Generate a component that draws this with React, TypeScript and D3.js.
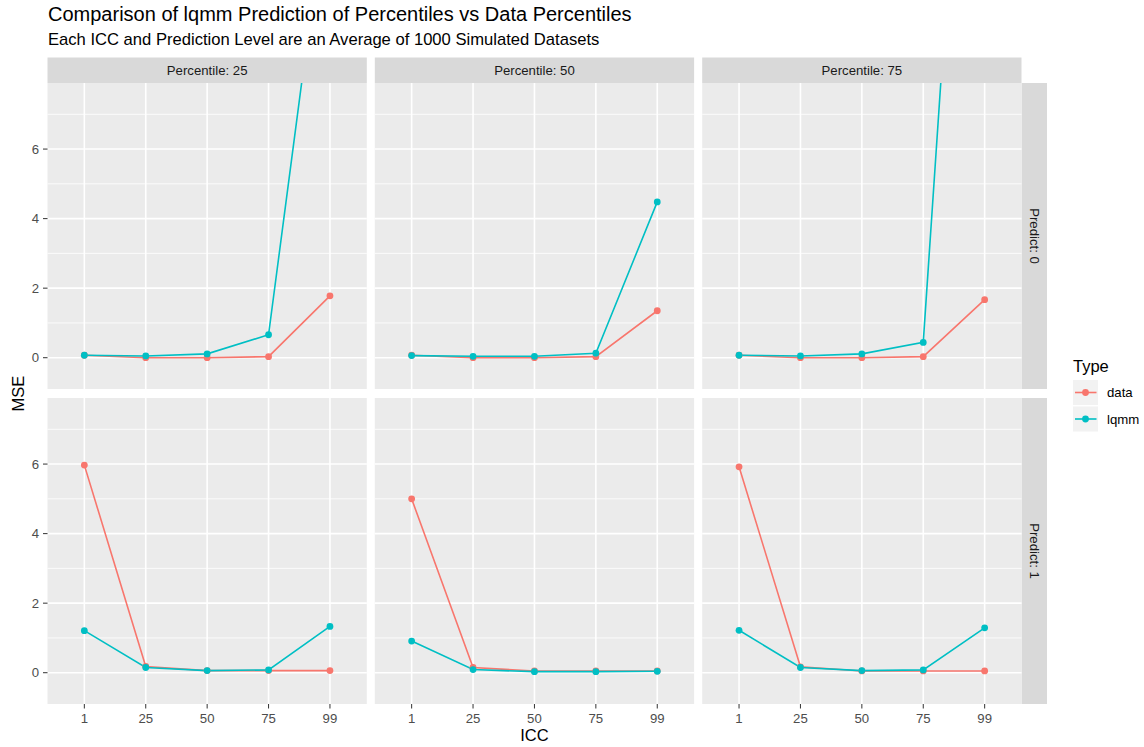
import React from 'react';
import * as d3 from 'd3';

// facet labels and x categories
const iccLevels = ['1', '25', '50', '75', '99'];
const percentiles = ['25', '50', '75'];
const predicts = ['0', '1'];
const types = ['data', 'lqmm'];
const typeColors = ['#F8766D', '#00BFC4'];
const yTicks = [0, 2, 4, 6];
const yMinor = [-1, 1, 3, 5, 7];

// MSE values per panel: [predict][percentile] -> ICC order 1,25,50,75,99
const dataP0 = [
  [0.07, 0.0, 0.0, 0.03, 1.78],
  [0.07, 0.0, 0.0, 0.03, 1.35],
  [0.07, 0.0, 0.0, 0.03, 1.67],
];
const lqmmP0 = [
  [0.07, 0.05, 0.11, 0.66, 14.1],
  [0.06, 0.04, 0.04, 0.13, 4.48],
  [0.07, 0.05, 0.11, 0.44, 26.6],
];
const dataP1 = [
  [5.97, 0.18, 0.06, 0.06, 0.06],
  [5.0, 0.15, 0.05, 0.05, 0.05],
  [5.92, 0.17, 0.05, 0.05, 0.05],
];
const lqmmP1 = [
  [1.21, 0.15, 0.06, 0.08, 1.33],
  [0.91, 0.09, 0.03, 0.03, 0.04],
  [1.22, 0.15, 0.06, 0.08, 1.29],
];

const W = 1144;
const H = 747;
const font = '"Liberation Sans", Arial, Helvetica, sans-serif';
const small = 13.2;

const panelW = 319.3;
const panelH = 306;
const colX = [47.5, 374.8, 702.2];
const rowY = [83, 398];
const stripH = 25.5;

const App: React.FC = () => {
  const x = d3.scalePoint<string>().domain(iccLevels).range([0, panelW]).padding(0.6);
  const y = d3.scaleLinear().domain([-0.9, 7.9]).range([panelH, 0]);
  const line = d3
    .line<number>()
    .x((_, i) => x(iccLevels[i]) as number)
    .y((d) => y(d));

  const series = [
    [dataP0, lqmmP0],
    [dataP1, lqmmP1],
  ];

  return (
    <svg width={W} height={H} style={{ position: 'absolute', left: 0, top: 0, background: '#fff' }}>
      <defs>
        <clipPath id="panelClip">
          <rect x={0} y={0} width={panelW} height={panelH} />
        </clipPath>
      </defs>
      <text x={48} y={21} fontFamily={font} fontSize={20} fill="#000">
        Comparison of lqmm Prediction of Percentiles vs Data Percentiles
      </text>
      <text x={48} y={44.5} fontFamily={font} fontSize={16.6} fill="#000">
        Each ICC and Prediction Level are an Average of 1000 Simulated Datasets
      </text>

      {/* top strips */}
      {percentiles.map((p, c) => (
        <g key={'s' + p} transform={`translate(${colX[c]},${rowY[0] - stripH})`}>
          <rect width={panelW} height={stripH} fill="#D9D9D9" />
          <text x={panelW / 2} y={stripH / 2 + 4.6} textAnchor="middle" fontFamily={font} fontSize={small} fill="#1A1A1A">
            {'Percentile: ' + p}
          </text>
        </g>
      ))}

      {/* right strips */}
      {predicts.map((p, r) => (
        <g key={'r' + p} transform={`translate(${colX[2] + panelW},${rowY[r]})`}>
          <rect width={stripH} height={panelH} fill="#D9D9D9" />
          <text
            transform={`translate(${stripH / 2 - 4.6},${panelH / 2}) rotate(90)`}
            textAnchor="middle"
            fontFamily={font}
            fontSize={small}
            fill="#1A1A1A"
          >
            {'Predict: ' + p}
          </text>
        </g>
      ))}

      {predicts.map((p, r) =>
        percentiles.map((q, c) => (
          <g key={p + q} transform={`translate(${colX[c]},${rowY[r]})`}>
            <rect width={panelW} height={panelH} fill="#EBEBEB" />
            {yMinor.map((t) => (
              <line key={'m' + t} x1={0} x2={panelW} y1={y(t)} y2={y(t)} stroke="#fff" strokeWidth={0.8} />
            ))}
            {yTicks.map((t) => (
              <line key={'y' + t} x1={0} x2={panelW} y1={y(t)} y2={y(t)} stroke="#fff" strokeWidth={1.6} />
            ))}
            {iccLevels.map((t) => (
              <line key={'x' + t} x1={x(t)} x2={x(t)} y1={0} y2={panelH} stroke="#fff" strokeWidth={1.6} />
            ))}
            <g clipPath="url(#panelClip)">
              {types.map((tp, k) => (
                <path
                  key={tp}
                  d={line(series[r][k][c]) ?? ''}
                  fill="none"
                  stroke={typeColors[k]}
                  strokeWidth={1.6}
                />
              ))}
              {types.map((tp, k) =>
                series[r][k][c].map((v, i) => (
                  <circle key={tp + i} cx={x(iccLevels[i])} cy={y(v)} r={3.4} fill={typeColors[k]} />
                ))
              )}
            </g>
            {/* y axis on first column */}
            {c === 0 &&
              yTicks.map((t) => (
                <g key={'yt' + t}>
                  <line x1={-4.5} x2={0} y1={y(t)} y2={y(t)} stroke="#333" strokeWidth={1} />
                  <text x={-8.5} y={y(t) + 4.7} textAnchor="end" fontFamily={font} fontSize={small} fill="#4D4D4D">
                    {t}
                  </text>
                </g>
              ))}
            {/* x axis on bottom row */}
            {r === 1 &&
              iccLevels.map((t) => (
                <g key={'xt' + t}>
                  <line x1={x(t)} x2={x(t)} y1={panelH} y2={panelH + 4.5} stroke="#333" strokeWidth={1} />
                  <text x={x(t)} y={panelH + 18.5} textAnchor="middle" fontFamily={font} fontSize={small} fill="#4D4D4D">
                    {t}
                  </text>
                </g>
              ))}
          </g>
        ))
      )}

      {/* axis titles */}
      <text x={(colX[0] + colX[2] + panelW) / 2} y={741} textAnchor="middle" fontFamily={font} fontSize={16.5} fill="#000">
        ICC
      </text>
      <text
        transform={`translate(24,${(rowY[0] + rowY[1] + panelH) / 2}) rotate(-90)`}
        textAnchor="middle"
        fontFamily={font}
        fontSize={16.5}
        fill="#000"
      >
        MSE
      </text>

      {/* legend */}
      <text x={1073} y={371.5} fontFamily={font} fontSize={16.5} fill="#000">
        Type
      </text>
      {types.map((tp, k) => (
        <g key={'lg' + tp} transform={`translate(1073,${380 + k * 26.5})`}>
          <rect width={25} height={25} fill="#F2F2F2" />
          <line x1={2} x2={23.5} y1={12.5} y2={12.5} stroke={typeColors[k]} strokeWidth={1.6} />
          <circle cx={12.5} cy={12.5} r={3.4} fill={typeColors[k]} />
          <text x={34} y={17.3} fontFamily={font} fontSize={small} fill="#000">
            {tp}
          </text>
        </g>
      ))}
    </svg>
  );
};

export default App;
